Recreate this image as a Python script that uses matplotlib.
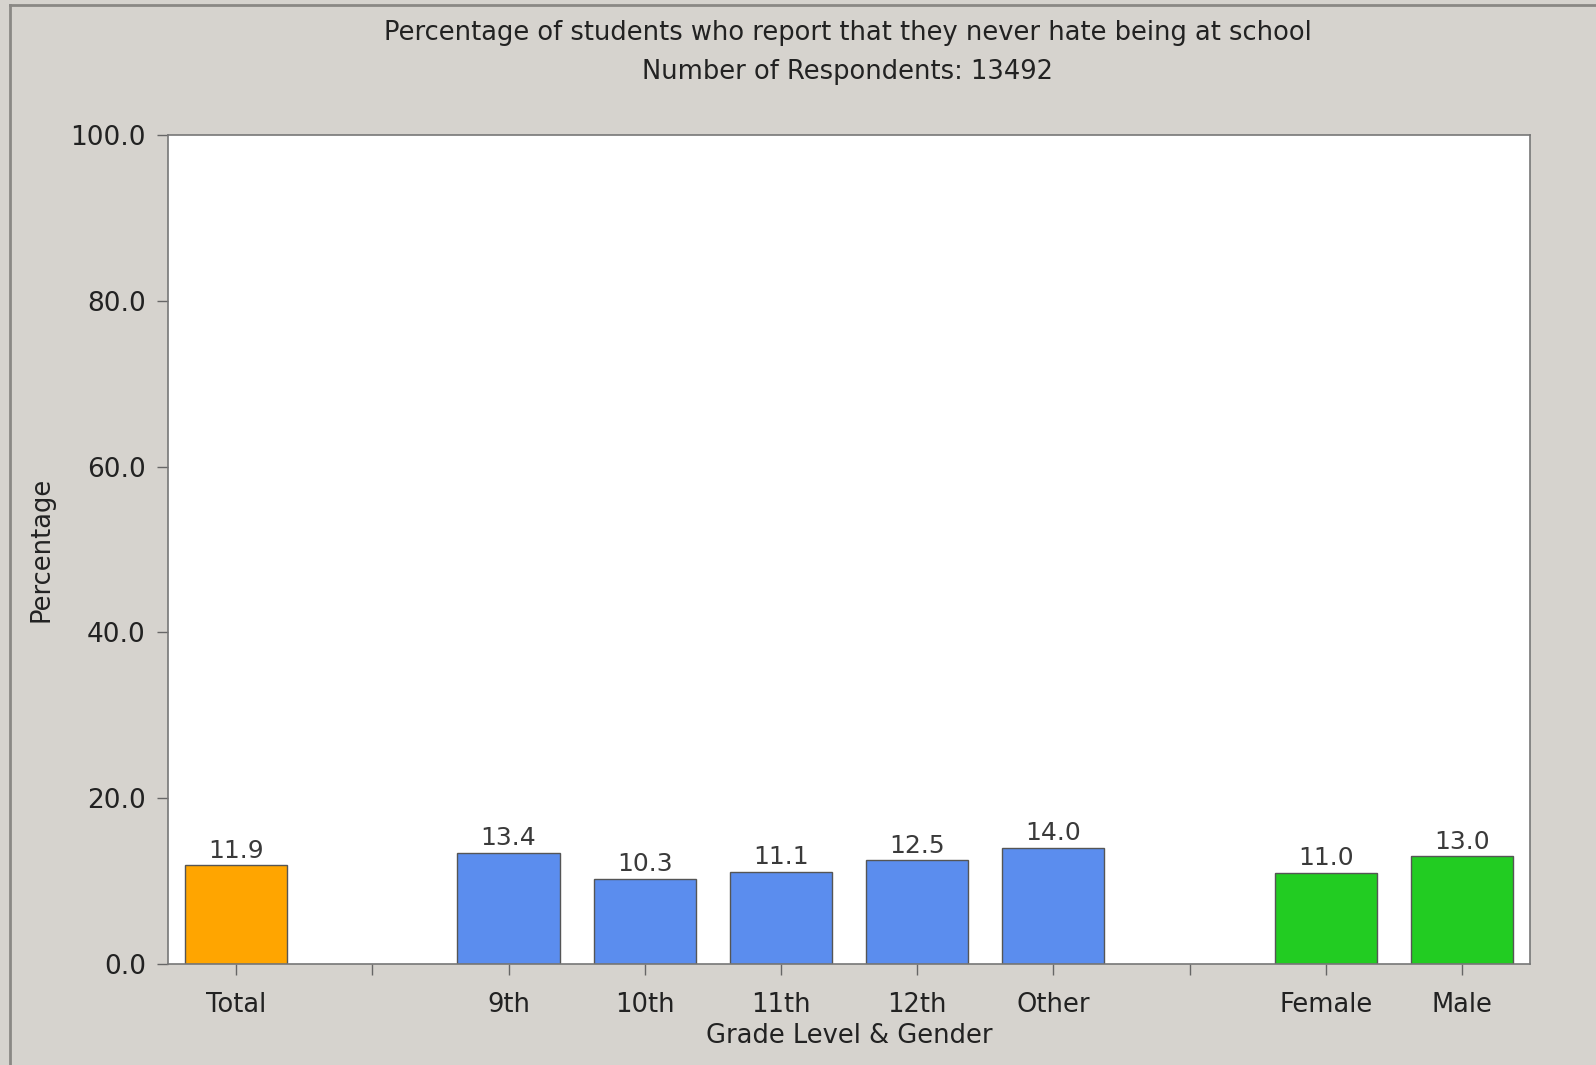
import numpy as np
import matplotlib
matplotlib.use("Agg")
import matplotlib.pyplot as plt
from matplotlib.lines import Line2D

plt.rcParams['font.family'] = ['DejaVu Sans']

# data
categories = ['Total', '', '9th', '10th', '11th', '12th', 'Other', '', 'Female', 'Male']
values = [11.9, None, 13.4, 10.3, 11.1, 12.5, 14.0, None, 11.0, 13.0]
bar_colors = ['#FFA500', None, '#5B8DEE', '#5B8DEE', '#5B8DEE', '#5B8DEE', '#5B8DEE',
              None, '#22CC22', '#22CC22']
y_ticks = [0, 20, 40, 60, 80, 100]

W, H = 1596, 1065
bg = '#d6d3ce'
fig = plt.figure(figsize=(W/100, H/100), dpi=100, facecolor=bg)
ax = fig.add_axes([168/W, 1-964/H, (1530-168)/W, (964-135)/H])
ax.set_facecolor('white')

# border of the picture: only left and top edges show
fig.lines.append(Line2D([10/W, 10/W], [0, 1-5/H], transform=fig.transFigure, color='#8a8885', lw=2))
fig.lines.append(Line2D([10/W, 1], [1-5/H, 1-5/H], transform=fig.transFigure, color='#8a8885', lw=2))

x = np.arange(len(categories))
for xi, v, c in zip(x, values, bar_colors):
    if v is None:
        continue
    ax.bar(xi, v, width=0.75, color=c, edgecolor='#555555', linewidth=1.0, zorder=2)
    ax.text(xi, v + 0.3, f"{v:.1f}", ha='center', va='bottom', fontsize=18, color='#3a3a3a')

ax.set_xlim(-0.5, len(categories) - 0.5)
ax.set_ylim(0, 100)
ax.set_xticks(x)
ax.set_xticklabels(categories, fontsize=18.5, color='#222222')
ax.set_yticks(y_ticks)
ax.set_yticklabels([f"{t:.1f}" for t in y_ticks], fontsize=19, color='#222222')
ax.tick_params(axis='both', direction='out', length=8, width=1, color='#666666')
ax.tick_params(axis='x', pad=12)
ax.tick_params(axis='y', pad=8)
for s in ax.spines.values():
    s.set_color('#777777')
    s.set_linewidth(1.2)

ax.set_xlabel('Grade Level & Gender', fontsize=18.5, color='#222222', labelpad=4)
ax.set_ylabel('Percentage', fontsize=18.5, color='#222222', labelpad=11)

fig.text(0.531, 1-33/H, 'Percentage of students who report that they never hate being at school',
         ha='center', va='center', fontsize=18.5, color='#222222')
fig.text(0.531, 1-72/H, 'Number of Respondents: 13492',
         ha='center', va='center', fontsize=18.5, color='#222222')

fig.savefig('out.png', dpi=100, facecolor=bg)
